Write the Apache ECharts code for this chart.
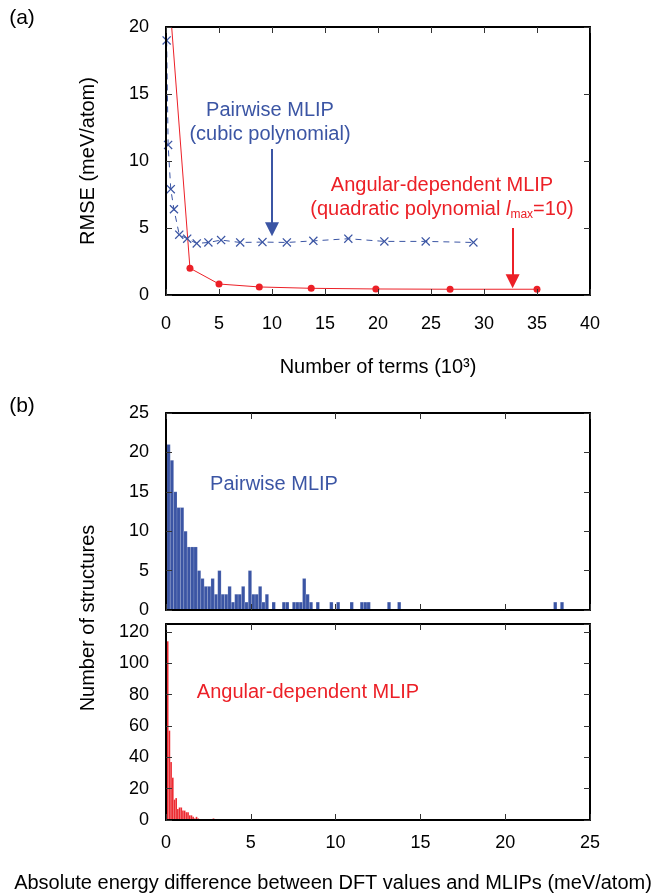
<!DOCTYPE html>
<html>
<head>
<meta charset="utf-8">
<script src="https://cdn.jsdelivr.net/npm/echarts@6/dist/echarts.min.js"></script>
<style>
html, body { margin: 0; padding: 0; background: #fff; }
#div_mlip { width: 663px; height: 896px; }
</style>
</head>
<body>
<div id="div_mlip"></div>
<script>
// (a) RMSE vs number of terms (10^3)
var pairTerms = [0.06, 0.2, 0.45, 0.75, 1.25, 2.0, 2.9, 4.0, 5.2, 7.0, 9.1, 11.4, 13.9, 17.2, 20.6, 24.5, 29.0];
var pairRmse  = [19.0, 11.2, 7.9, 6.4, 4.5, 4.2, 3.85, 3.92, 4.1, 3.92, 3.95, 3.92, 4.04, 4.2, 4.0, 4.0, 3.92];
var angTerms  = [0.2, 2.26, 5.0, 8.8, 13.7, 19.8, 26.8, 35.0];
var angRmse   = [23.5, 2.0, 0.82, 0.6, 0.5, 0.45, 0.43, 0.43];

// (b) histograms: [left edge of bar, number of structures]
var pairBinWidth = 0.2;
var pairHist = [
    [0.05, 21], [0.25, 19], [0.45, 15], [0.65, 13], [0.85, 13], [1.05, 10], [1.25, 8], [1.45, 8], [1.65, 8], [1.85, 5],
    [2.05, 4], [2.25, 3], [2.45, 3], [2.65, 4], [2.85, 2], [3.05, 5], [3.25, 2], [3.45, 2], [3.65, 3], [3.85, 1],
    [4.05, 2], [4.25, 2], [4.45, 3], [4.65, 1], [4.85, 5], [5.05, 2], [5.25, 2], [5.45, 3], [5.65, 1], [5.85, 2],
    [6.25, 1], [6.85, 1], [7.05, 1], [7.45, 1], [7.65, 1], [7.85, 1], [8.05, 4], [8.25, 2], [8.45, 1], [8.85, 1],
    [9.65, 1], [10.05, 1], [10.85, 1], [11.45, 1], [11.65, 1], [11.85, 1], [13.05, 1], [13.65, 1], [22.85, 1], [23.25, 1]
];
var angBinWidth = 0.1;
var angHist = [
    [0.05, 114], [0.15, 57], [0.25, 37], [0.35, 27], [0.45, 13], [0.55, 14], [0.65, 7], [0.75, 8], [0.85, 8], [0.95, 6],
    [1.05, 6], [1.15, 5], [1.25, 5], [1.35, 3], [1.45, 3], [1.55, 2], [1.65, 1], [1.75, 2], [1.85, 1], [2.75, 1]
];

var blue = '#3b55a4';
var red = '#ec2027';
var font = 'Liberation Sans';
var xMark = 'path://M0,1L1,0L5,4L9,0L10,1L6,5L10,9L9,10L5,6L1,10L0,9L4,5Z';

// one axis of the boxed plots
function boxAxis(gridIndex, pos, min, max, interval, showLabel, margin) {
    return {
        type: 'value', gridIndex: gridIndex, position: pos,
        min: min, max: max, interval: interval, z: 5,
        axisLine: { show: true, onZero: false, lineStyle: { color: '#000', width: 2 } },
        axisTick: { show: true, inside: true, length: 6, lineStyle: { color: '#333', width: 1 } },
        axisLabel: { show: showLabel, margin: margin, color: '#000', fontSize: 18, fontFamily: font, showMaxLabel: max % interval === 0 },
        splitLine: { show: false }
    };
}

function histItem(width, color) {
    return function (params, api) {
        var a = api.coord([api.value(0), api.value(1)]);
        var b = api.coord([api.value(0) + width, 0]);
        return {
            type: 'rect',
            shape: { x: a[0], y: a[1], width: b[0] - a[0], height: b[1] - a[1] },
            style: { fill: color, stroke: 'rgba(255,255,255,0.35)', lineWidth: 0.4 }
        };
    };
}

function txt(x, y, text, color, size, extra) {
    var el = {
        type: 'text', x: x, y: y, z: 10,
        style: { text: text, fill: color || '#000', font: (size || 20) + 'px "' + font + '"', align: 'center', verticalAlign: 'middle' }
    };
    for (var k in extra) { el[k] = extra[k]; }
    return el;
}

var option_mlip = {
    animation: false,
    grid: [
        { left: 166, top: 27, width: 424, height: 268 },
        { left: 166, top: 413, width: 424, height: 197 },
        { left: 166, top: 624, width: 424, height: 196 }
    ],
    xAxis: [
        boxAxis(0, 'bottom', 0, 40, 5, true, 20),
        boxAxis(0, 'top', 0, 40, 5, false, 8),
        boxAxis(1, 'bottom', 0, 25, 5, false, 8),
        boxAxis(1, 'top', 0, 25, 5, false, 8),
        boxAxis(2, 'bottom', 0, 25, 5, true, 14),
        boxAxis(2, 'top', 0, 25, 5, false, 8)
    ],
    yAxis: [
        boxAxis(0, 'left', 0, 20, 5, true, 17),
        boxAxis(0, 'right', 0, 20, 5, false, 8),
        boxAxis(1, 'left', 0, 25, 5, true, 17),
        boxAxis(1, 'right', 0, 25, 5, false, 8),
        boxAxis(2, 'left', 0, 125, 20, true, 17),
        boxAxis(2, 'right', 0, 125, 20, false, 8)
    ],
    series: [
        {
            name: 'Pairwise MLIP', type: 'line', xAxisIndex: 0, yAxisIndex: 0,
            data: pairTerms.map(function (v, i) { return [v, pairRmse[i]]; }),
            symbol: xMark, symbolSize: 9, clip: true,
            itemStyle: { color: blue },
            lineStyle: { color: blue, width: 1, type: [6, 5] },
            markLine: {
                silent: true, symbol: ['none', 'triangle'], symbolSize: [14, 14],
                label: { show: false },
                lineStyle: { color: blue, width: 2, type: 'solid' },
                data: [[{ coord: [10, 10.9] }, { coord: [10, 4.9] }]]
            }
        },
        {
            name: 'Angular-dependent MLIP', type: 'line', xAxisIndex: 0, yAxisIndex: 0,
            data: angTerms.map(function (v, i) { return [v, angRmse[i]]; }),
            symbol: 'circle', symbolSize: 7, clip: true,
            itemStyle: { color: red },
            lineStyle: { color: red, width: 1 },
            markLine: {
                silent: true, symbol: ['none', 'triangle'], symbolSize: [14, 14],
                label: { show: false },
                lineStyle: { color: red, width: 2, type: 'solid' },
                data: [[{ coord: [32.7, 5.0] }, { coord: [32.7, 1.03] }]]
            }
        },
        {
            type: 'custom', xAxisIndex: 2, yAxisIndex: 2,
            renderItem: histItem(pairBinWidth, blue), data: pairHist
        },
        {
            type: 'custom', xAxisIndex: 4, yAxisIndex: 4,
            renderItem: histItem(angBinWidth, red), data: angHist
        }
    ],
    graphic: [
        txt(22, 18, '(a)', '#000', 21),
        txt(22, 406, '(b)', '#000', 21),
        txt(88, 161, 'RMSE (meV/atom)', '#000', 20, { rotation: Math.PI / 2 }),
        txt(378, 367, 'Number of terms (10\u00b3)', '#000', 20),
        txt(88, 618, 'Number of structures', '#000', 20, { rotation: Math.PI / 2 }),
        txt(333, 883, 'Absolute energy difference between DFT values and MLIPs (meV/atom)', '#000', 20),
        txt(270, 110, 'Pairwise MLIP', blue),
        txt(270, 134, '(cubic polynomial)', blue),
        txt(442, 185, 'Angular-dependent MLIP', red),
        {
            type: 'text', x: 442, y: 209, z: 10,
            style: {
                text: '{t|(quadratic polynomial }{i|l}{s|max}{t|=10)}',
                align: 'center', verticalAlign: 'middle',
                rich: {
                    t: { fill: red, fontSize: 20, fontFamily: font, lineHeight: 24 },
                    i: { fill: red, fontSize: 20, fontFamily: font, fontStyle: 'italic', lineHeight: 24 },
                    s: { fill: red, fontSize: 12, fontFamily: font, verticalAlign: 'bottom', lineHeight: 12 }
                }
            }
        },
        txt(274, 484, 'Pairwise MLIP', blue),
        txt(308, 692, 'Angular-dependent MLIP', red)
    ]
};

var mlip_chart = echarts.init(document.getElementById('div_mlip'));
mlip_chart.setOption(option_mlip);
</script>
</body>
</html>
